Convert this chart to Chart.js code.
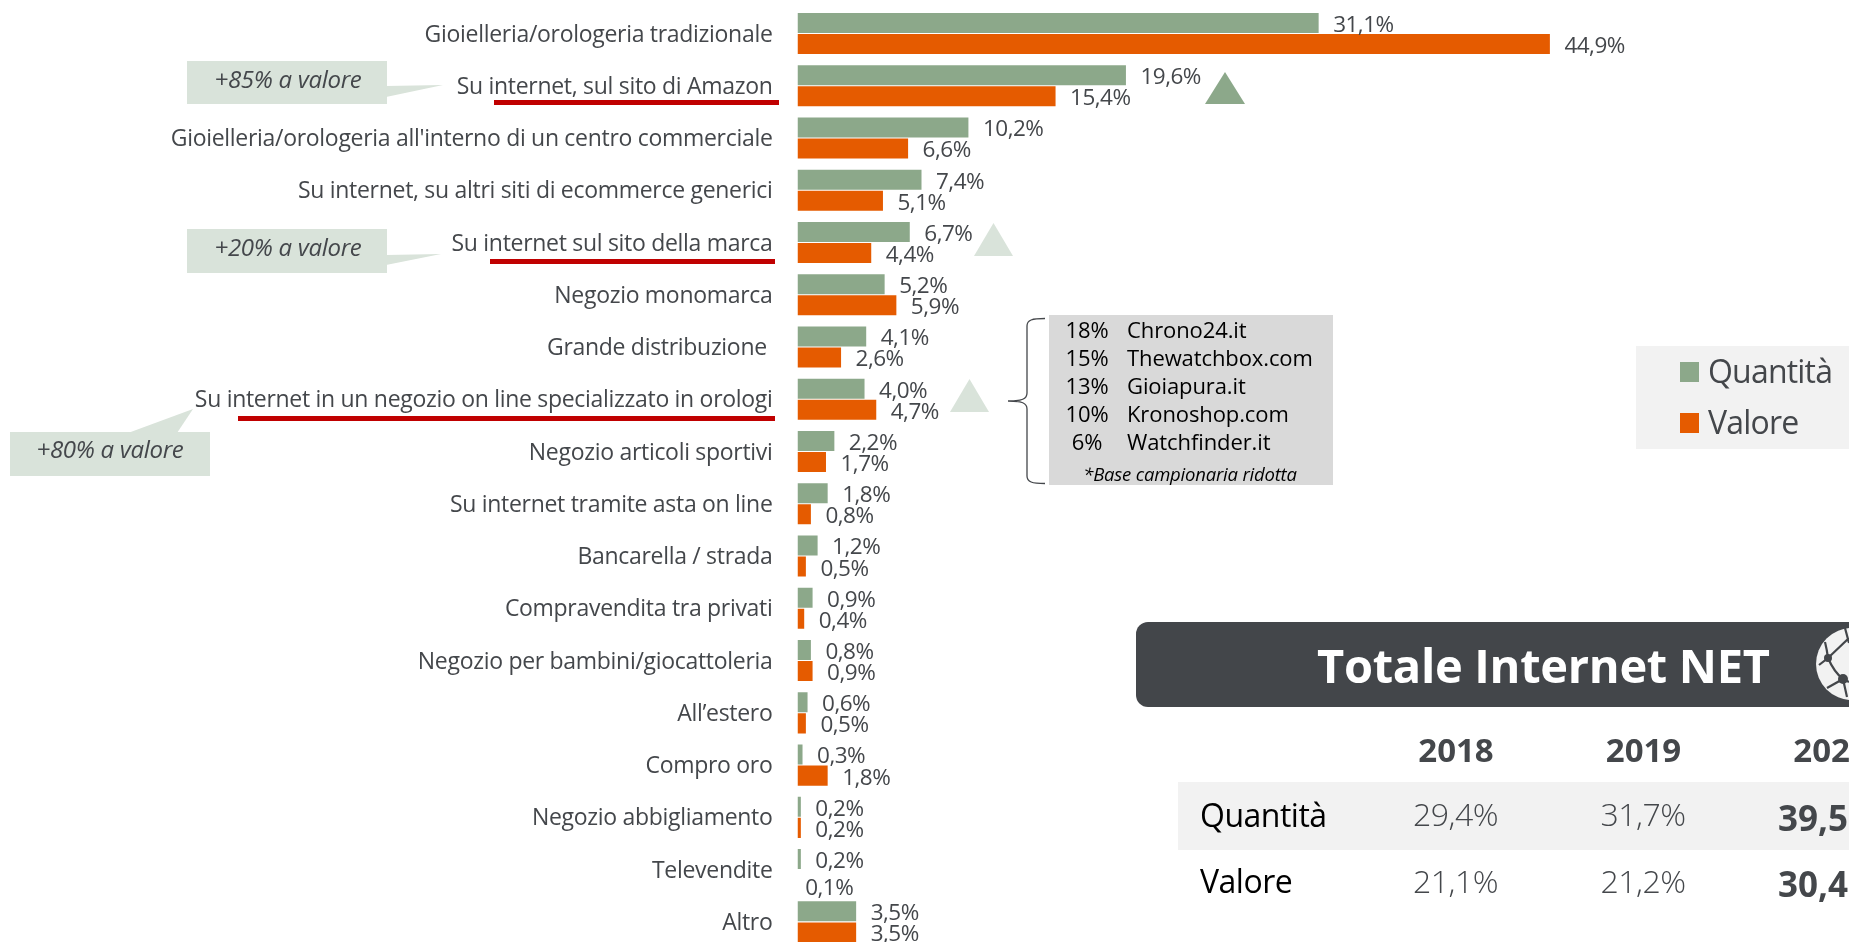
<!DOCTYPE html>
<html lang="it"><head><meta charset="utf-8">
<script src="https://cdn.jsdelivr.net/npm/chart.js@4"></script>
<style>
html,body{margin:0;padding:0;width:1849px;height:942px;overflow:hidden;background:#fff;font-family:"Open Sans",sans-serif;color:#44474b}
#wrap{position:absolute;left:0;top:0;width:1849px;height:948px}
#art{position:absolute;left:0;top:0;width:1849px;height:942px;pointer-events:none}
.t{position:absolute;white-space:nowrap;line-height:1;transform:translateY(-50%)}
.c{transform:translate(-50%,-50%)}
.call{font-style:italic;font-size:24px;letter-spacing:-.3px}
.site{color:#000;font-size:22px;letter-spacing:-.1px}
.sw{position:absolute;width:19px;height:20px}
.leg{font-size:32px;letter-spacing:-.8px}
.yr{font-weight:700;font-size:33px}
.val{font-size:32px;font-weight:300;letter-spacing:-.5px}
.bv{font-size:35px;font-weight:700}
.rowh{font-size:32px;color:#000;letter-spacing:-.5px}
</style></head><body>
<div id="wrap"><canvas id="c" width="1849" height="948"></canvas></div>
<svg id="art" viewBox="0 0 1849 942">
 <rect x="187" y="61" width="200" height="43" fill="#d9e3da"/><path d="M386 86L443 85L386 97Z" fill="#d9e3da"/>
 <rect x="187" y="229" width="200" height="44" fill="#d9e3da"/><path d="M386 255L441 254L386 265Z" fill="#d9e3da"/>
 <rect x="10" y="432" width="200" height="44" fill="#d9e3da"/><path d="M128 433L193 409L177 433Z" fill="#d9e3da"/>
 <rect x="494" y="100" width="285" height="5" fill="#c00000"/>
 <rect x="490" y="259" width="285" height="5" fill="#c00000"/>
 <rect x="238" y="416" width="537" height="5" fill="#c00000"/>
 <path d="M1205 104L1225 72L1245 104Z" fill="#8ca88a"/>
 <path d="M974 256L993.500 223L1013 256Z" fill="#d9e3da"/>
 <path d="M950 412L969.500 379L989 412Z" fill="#d9e3da"/>
 <rect x="1049" y="315" width="284" height="170" fill="#d9d9d9"/>
 <path d="M1045 318.500C1032 318.500 1027 320 1027 326V393C1027 399 1022 401 1008 401C1022 401 1027 403 1027 409V476C1027 482 1032 483.500 1045 483.500" fill="none" stroke="#44474b" stroke-width="1.3"/>
 <rect x="1636" y="346" width="213" height="103" fill="#f2f2f2"/>
 <rect x="1178" y="782" width="671" height="68" fill="#f2f2f2"/>
 <path d="M1148 622H1849V707H1148A12 12 0 0 1 1136 695V634A12 12 0 0 1 1148 622Z" fill="#43464a"/>
 <circle cx="1852" cy="664" r="36" fill="#f2f2f2"/>
 <path d="M1825 642Q1827 650 1828 658L1819 665M1828 658L1849 638M1845 628L1849 643M1828 658Q1834 672 1843 679L1827 688M1843 679L1849 682M1843 679L1847 697" fill="none" stroke="#43464a" stroke-width="2.200"/>
 <circle cx="1828" cy="658" r="4" fill="#43464a"/><circle cx="1843" cy="679" r="5" fill="#43464a"/>
</svg>
<div id="lg"></div>
<div class="t c call" style="left:288px;top:79px">+85% a valore</div>
<div class="t c call" style="left:288px;top:247px">+20% a valore</div>
<div class="t c call" style="left:110px;top:449px">+80% a valore</div>
<div id="sites"></div>
<div class="t" style="left:1317px;top:665px;font-size:47px;font-weight:700;color:#fff;letter-spacing:-.3px">Totale Internet NET</div>
<div id="tab"></div>
<script>
const categories=["Gioielleria/orologeria tradizionale","Su internet, sul sito di Amazon","Gioielleria/orologeria all'interno di un centro commerciale","Su internet, su altri siti di ecommerce generici","Su internet sul sito della marca","Negozio monomarca","Grande distribuzione ","Su internet in un negozio on line specializzato in orologi","Negozio articoli sportivi","Su internet tramite asta on line","Bancarella / strada","Compravendita tra privati","Negozio per bambini/giocattoleria","All’estero","Compro oro","Negozio abbigliamento","Televendite","Altro"];
const quantita=[31.1,19.6,10.2,7.4,6.7,5.2,4.1,4.0,2.2,1.8,1.2,0.9,0.8,0.6,0.3,0.2,0.2,3.5];
const valore=[44.9,15.4,6.6,5.1,4.4,5.9,2.6,4.7,1.7,0.8,0.5,0.4,0.9,0.5,1.8,0.2,0.1,3.5];
const seriesNames=["Quantità","Valore"];
const seriesColors=["#8ca88a","#e55b00"];
const sitePct=["18%","15%","13%","10%","6%"];
const siteNames=["Chrono24.it","Thewatchbox.com","Gioiapura.it","Kronoshop.com","Watchfinder.it"];
const siteNote="*Base campionaria ridotta";
const years=["2018","2019","2020"];
const netQuantita=["29,4%","31,7%","39,5%"];
const netValore=["21,1%","21,2%","30,4%"];

const fmt=v=>v.toFixed(1).replace('.',',')+'%';
const FONT='"Open Sans", sans-serif';

const labelsPlugin={id:'barLabels',afterDatasetsDraw(chart){
  const ctx=chart.ctx;ctx.save();
  ctx.font='22.5px '+FONT;ctx.fillStyle='#44474b';ctx.textAlign='left';ctx.textBaseline='middle';
  if('letterSpacing' in ctx)ctx.letterSpacing='-0.5px';
  chart.data.datasets.forEach((ds,di)=>{
    chart.getDatasetMeta(di).data.forEach((bar,i)=>{
      const unseen=ds.data[i]<=0.1;
      ctx.fillText(fmt(ds.data[i]),bar.x+(unseen?6:14.5),bar.y+(unseen?8:2.5));
    });
  });
  ctx.restore();
}};
const tickSpacing={id:'tickSpacing',beforeDraw(chart){if('letterSpacing' in chart.ctx)chart.ctx.letterSpacing='-0.3px';},
  afterDraw(chart){if('letterSpacing' in chart.ctx)chart.ctx.letterSpacing='0px';}};

new Chart(document.getElementById('c'),{
  type:'bar',
  data:{labels:categories,datasets:[
    {label:seriesNames[0],data:quantita,backgroundColor:seriesColors[0]},
    {label:seriesNames[1],data:valore,backgroundColor:c=>c.raw<=0.1?'rgba(0,0,0,0)':seriesColors[1]}
  ]},
  options:{indexAxis:'y',responsive:false,animation:false,
    categoryPercentage:.805,barPercentage:.952,
    layout:{padding:{top:7.4,bottom:0,left:0,right:0}},
    plugins:{legend:{display:false},tooltip:{enabled:false}},
    scales:{
      x:{display:false,min:0,max:62.75},
      y:{position:'left',grid:{display:false,drawTicks:false},border:{display:false},
        afterFit(s){s.width=797.5;s.paddingTop=0;s.paddingBottom=0;},
        ticks:{autoSkip:false,padding:25,labelOffset:1.5,color:'#44474b',font:{family:FONT,size:23},crossAlign:'near'}}
    }
  },
  plugins:[tickSpacing,labelsPlugin]
});

function put(parent,cls,txt,style){const d=document.createElement('div');d.className=cls;d.textContent=txt;d.style.cssText=style;parent.appendChild(d);}
const lg=document.getElementById('lg');
seriesNames.forEach((n,i)=>{
  put(lg,'sw','',`left:1680px;top:${362+i*51}px;background:${seriesColors[i]}`);
  put(lg,'t leg',n,`left:1708px;top:${371+i*51}px`);
});
const sites=document.getElementById('sites');
sitePct.forEach((p,i)=>{
  put(sites,'t c site',p,`left:1087px;top:${329+i*28}px`);
  put(sites,'t site',siteNames[i],`left:1127px;top:${329+i*28}px`);
});
put(sites,'t c',siteNote,'left:1190px;top:474px;font-size:18.5px;font-style:italic;color:#000;letter-spacing:-.2px');
const tab=document.getElementById('tab');
put(tab,'t rowh','Quantità','left:1200px;top:815px');
put(tab,'t rowh','Valore','left:1200px;top:881px');
years.forEach((y,i)=>{
  const x=1456+i*187.5,last=i===years.length-1;
  put(tab,'t c yr',y,`left:${x}px;top:749px`);
  put(tab,'t '+(last?'bv':'val'),netQuantita[i],`left:${x-(last?53:43)}px;top:${last?817:814}px`);
  put(tab,'t '+(last?'bv':'val'),netValore[i],`left:${x-(last?53:43)}px;top:${last?883:881}px`);
});
</script>
</body></html>
